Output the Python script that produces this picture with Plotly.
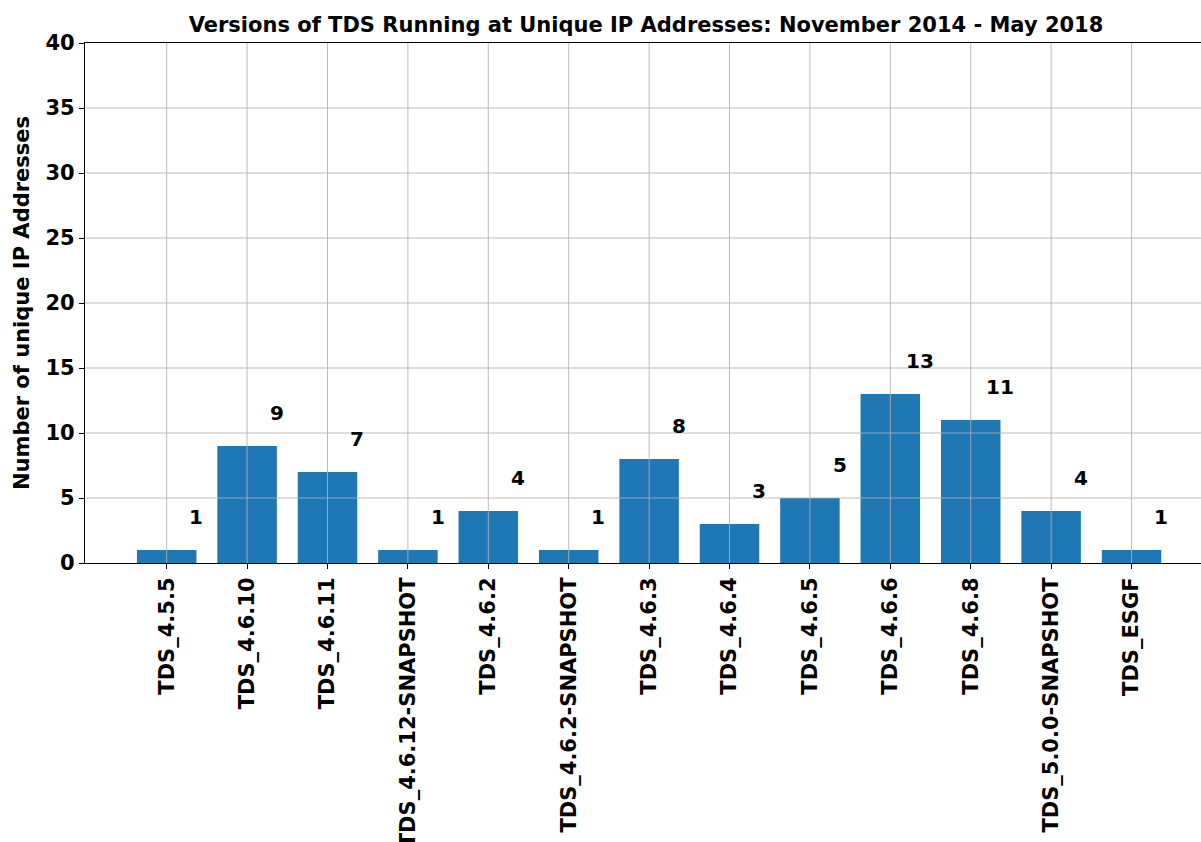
import plotly.graph_objects as go

categories = ["TDS_4.5.5", "TDS_4.6.10", "TDS_4.6.11", "TDS_4.6.12-SNAPSHOT", "TDS_4.6.2",
              "TDS_4.6.2-SNAPSHOT", "TDS_4.6.3", "TDS_4.6.4", "TDS_4.6.5", "TDS_4.6.6",
              "TDS_4.6.8", "TDS_5.0.0-SNAPSHOT", "TDS_ESGF"]
counts = [1, 9, 7, 1, 4, 1, 8, 3, 5, 13, 11, 4, 1]
y_ticks = [0, 5, 10, 15, 20, 25, 30, 35, 40]

FONT = "DejaVu Sans"
FS = 21
idx = list(range(len(categories)))

fig = go.Figure()
fig.add_trace(go.Bar(x=idx, y=counts, width=0.74, marker=dict(color="#1f77b4", line=dict(width=0)),
                     hoverinfo="skip"))

# value labels (offset to the right of each bar, above it)
for i, v in zip(idx, counts):
    fig.add_annotation(x=i + 0.37, y=v + 2.55, text=str(v), showarrow=False,
                       xanchor="center", yanchor="middle",
                       font=dict(family=FONT, size=20, color="black", weight="bold"))

# gridlines drawn above bars (matplotlib style)
grid_col = "rgba(176,176,176,0.85)"
for i in idx:
    fig.add_shape(type="line", xref="x", yref="paper", x0=i, x1=i, y0=0, y1=1,
                  line=dict(color=grid_col, width=1), layer="above")
for t in y_ticks[1:-1]:
    fig.add_shape(type="line", xref="paper", yref="y", x0=0, x1=1, y0=t, y1=t,
                  line=dict(color=grid_col, width=1), layer="above")

fig.update_layout(
    width=1201, height=842,
    margin=dict(l=85, r=0, t=43, b=279, autoexpand=False),
    plot_bgcolor="white", paper_bgcolor="white",
    showlegend=False,
    font=dict(family=FONT, size=FS, color="black"),
    title=dict(text="Versions of TDS Running at Unique IP Addresses: November 2014 - May 2018",
               x=646 / 1201, xref="container", xanchor="center",
               y=1 - 25 / 842, yref="container", yanchor="middle",
               font=dict(family=FONT, size=FS, color="black", weight="bold")),
    xaxis=dict(range=[-1.016, 12.864], tickmode="array", tickvals=idx, ticktext=categories,
               tickangle=-90, showgrid=False, zeroline=False,
               showline=True, linecolor="black", linewidth=1.2, mirror=True,
               ticks="outside", ticklen=5, tickcolor="black", tickwidth=1.2,
               tickfont=dict(family=FONT, size=FS, color="black", weight="bold"),
               automargin=False),
    yaxis=dict(range=[0, 40], tickmode="array", tickvals=y_ticks,
               showgrid=False, zeroline=False,
               showline=True, linecolor="black", linewidth=1.2, mirror=False,
               ticks="outside", ticklen=5, tickcolor="black", tickwidth=1.2,
               tickfont=dict(family=FONT, size=FS, color="black", weight="bold"),
               automargin=False),
)

fig.add_annotation(text="Number of unique IP Addresses", xref="paper", yref="paper",
                   x=(22 - 85) / 1116, y=0.5, xanchor="center", yanchor="middle",
                   textangle=-90, showarrow=False,
                   font=dict(family=FONT, size=FS, color="black", weight="bold"))

fig.write_html("out.html")
